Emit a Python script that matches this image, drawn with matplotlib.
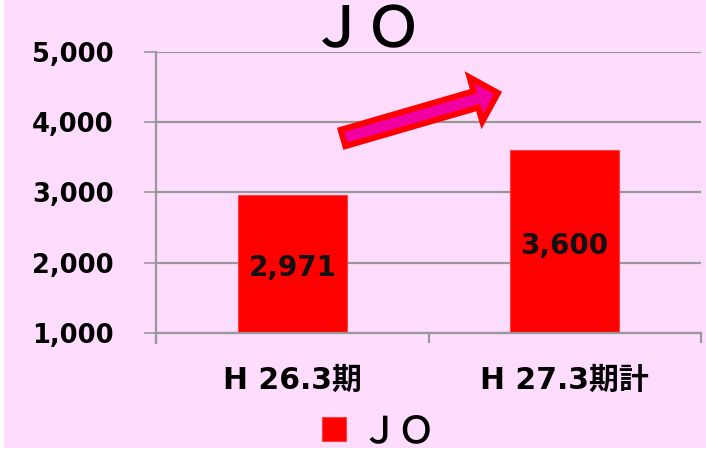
import matplotlib
matplotlib.use("Agg")
import matplotlib.pyplot as plt
from matplotlib.patches import FancyArrow, Rectangle

categories = ["H 26.3期", "H 27.3期計"]
values = [2971, 3600]
value_labels = ["2,971", "3,600"]
yticks = [1000, 2000, 3000, 4000, 5000]
ytick_labels = ["1,000", "2,000", "3,000", "4,000", "5,000"]
series_name = "ＪＯ"
title = "ＪＯ"

PINK = "#FDDCFD"
W, H = 706, 451
fig = plt.figure(figsize=(W / 100, H / 100), dpi=100, facecolor="white")
fig.patches.append(Rectangle((4 / W, 3 / H), 1 - 4 / W, 1 - 3 / H, transform=fig.transFigure,
                             facecolor=PINK, edgecolor="none", zorder=-10))

ax = fig.add_axes([156 / W, (H - 333) / H, (701 - 156) / W, (333 - 52) / H])
ax.set_facecolor(PINK)
ax.patch.set_alpha(0)

x = list(range(len(categories)))
bars = ax.bar(x, values, width=0.4, color="#FF0000", edgecolor="#FF4040", linewidth=0.8,
              zorder=3, label=series_name)

ax.set_xlim(-0.5, 1.5)
ax.set_ylim(1000, 5000)
ax.set_yticks(yticks)
ax.set_yticklabels(ytick_labels)
for t in ax.get_yticklabels():
    t.set_fontfamily(["DejaVu Sans"])
    t.set_fontweight("bold")
    t.set_fontsize(18.5)

ax.set_xticks([-0.5, 0.5, 1.5])
ax.set_xticklabels([])
ax.set_xticks(x, minor=True)
ax.set_xticklabels(categories, minor=True, fontfamily=["DejaVu Sans", "Noto Sans CJK JP"],
                   fontweight="bold", fontsize=21.5)

gridc = "#989898"
ax.grid(axis="y", color=gridc, linewidth=1.6, zorder=1)
ax.tick_params(axis="y", direction="out", length=8.6, width=1.2, color=gridc, pad=22)
ax.tick_params(axis="x", which="major", direction="out", length=7, width=1.6, color=gridc)
ax.tick_params(axis="x", which="minor", length=0, pad=24)
for s in ["top", "right"]:
    ax.spines[s].set_visible(False)
ax.spines["left"].set_color(gridc)
ax.spines["left"].set_linewidth(1.6)
ax.spines["left"].set_bounds(1000 - 140, 5000)
ax.spines["bottom"].set_color(gridc)
ax.spines["bottom"].set_linewidth(1.6)
ax.spines["bottom"].set_zorder(4)

for b, lab in zip(bars, value_labels):
    ax.text(b.get_x() + b.get_width() / 2, (1000 + b.get_height()) / 2 - 60, lab,
            ha="center", va="center", fontfamily=["DejaVu Sans"], fontweight="bold",
            fontsize=20, color="#111111", zorder=5)

# title
fig.text(366 / W, (H - 47) / H, title, ha="center", va="baseline",
         fontfamily=["Noto Sans CJK JP"], fontweight="medium", fontsize=41, color="black")

# arrow (decoration) in pixel coordinates
tx, ty = 343, 138
hx, hy = 498, 93
arrow = FancyArrow(tx / 100, (H - ty) / 100, (hx - tx) / 100, -(hy - ty) / 100,
                   width=0.17, head_width=0.46, head_length=0.23, length_includes_head=True,
                   transform=fig.dpi_scale_trans, facecolor="#F000A0", edgecolor="#FF0000",
                   linewidth=4.3, joinstyle="miter", zorder=10)
fig.patches.append(arrow)

leg = ax.legend(loc="center", bbox_to_anchor=(379 / W, 20 / H), bbox_transform=fig.transFigure,
                frameon=False, handlelength=0.62, handleheight=0.62, handletextpad=0.4,
                borderpad=0, prop={"family": ["Noto Sans CJK JP"], "weight": "medium", "size": 27})

fig.savefig("out.png", dpi=100, facecolor=fig.get_facecolor())
